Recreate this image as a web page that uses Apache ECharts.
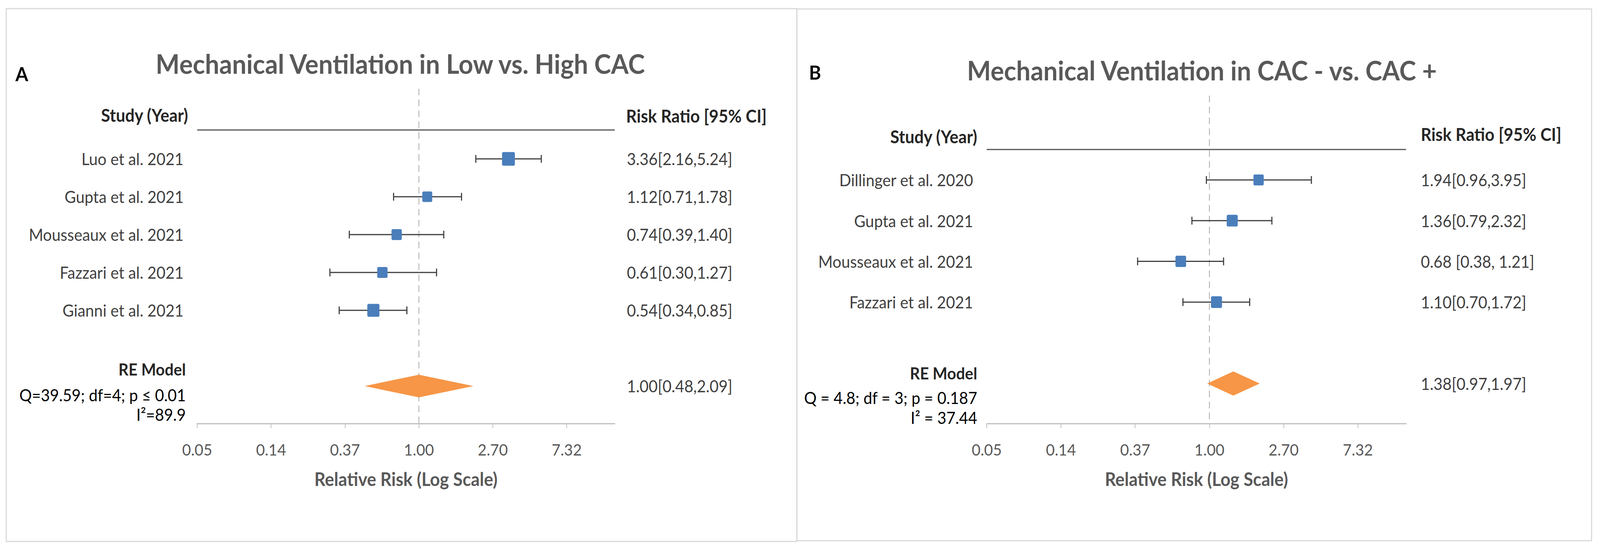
<!DOCTYPE html>
<html>
<head>
<meta charset="utf-8">
<script src="https://cdn.jsdelivr.net/npm/echarts@6/dist/echarts.min.js"></script>
<style>
html,body{margin:0;padding:0;background:#fff;overflow:hidden;}
#c{width:4357px;height:1409px;transform-origin:0 0;}
</style>
</head>
<body>
<div id="c"></div>
<script>
// ---------------- DATA ----------------
const tickLabels = ['0.05', '0.14', '0.37', '1.00', '2.70', '7.32'];
const axisTitle = 'Relative Risk (Log Scale)';
const headStudy = 'Study (Year)';
const headRR = 'Risk Ratio [95% CI]';
const pooledName = 'RE Model';

const titleA = 'Mechanical Ventilation in Low vs. High CAC';
const studiesA = ['Luo et al. 2021', 'Gupta et al. 2021', 'Mousseaux et al. 2021', 'Fazzari et al. 2021', 'Gianni et al. 2021'];
const rrA = [3.36, 1.12, 0.74, 0.61, 0.54];
const loA = [2.16, 0.71, 0.39, 0.30, 0.34];
const hiA = [5.24, 1.78, 1.40, 1.27, 0.85];
const ciTextA = ['3.36[2.16,5.24]', '1.12[0.71,1.78]', '0.74[0.39,1.40]', '0.61[0.30,1.27]', '0.54[0.34,0.85]'];
const pooledA = [1.00, 0.48, 2.09];
const pooledTextA = '1.00[0.48,2.09]';
const hetA = ['Q=39.59; df=4; p \u2264 0.01', 'I\u00B2=89.9'];

const titleB = 'Mechanical Ventilation in CAC - vs. CAC +';
const studiesB = ['Dillinger et al. 2020', 'Gupta et al. 2021', 'Mousseaux et al. 2021', 'Fazzari et al. 2021'];
const rrB = [1.94, 1.36, 0.68, 1.10];
const loB = [0.96, 0.79, 0.38, 0.70];
const hiB = [3.95, 2.32, 1.21, 1.72];
const ciTextB = ['1.94[0.96,3.95]', '1.36[0.79,2.32]', '0.68 [0.38, 1.21]', '1.10[0.70,1.72]'];
const pooledB = [1.38, 0.97, 1.97];
const pooledTextB = '1.38[0.97,1.97]';
const hetB = ['Q = 4.8; df = 3; p = 0.187', 'I\u00B2 = 37.44'];

// ---------------- STYLE / LAYOUT ----------------
const W = 4357, H = 1409;
const FONT = 'Lato, "Open Sans", sans-serif';
const FS = { title: 69, panel: 50, head: 45, row: 42.5, tick: 41.5, axisName: 47 };
const C = { title: '#595959', dark: '#262626', row: '#404040', box: '#4a7ebb', diamond: '#f79646',
            whisker: '#3f3f3f', axis: '#bfbfbf', ref: '#a6a6a6', border: '#d9d9d9', headLine: '#555555' };

const panels = [
  { label: 'A', labelX: 42, labelY: 188, border: [17, 22, 2153, 1365],
    title: titleA, titleX: 1090, titleY: 162,
    gridLeft: 537, gridRight: 1674, gridTop: 227, gridBottom: 1085,
    row0: 407, step: 97, boxes: [35, 27, 28, 28, 33], diamondH: 29,
    studyHeadRight: 512, studyHeadY: 294, rrHeadLeft: 1705, rrHeadY: 296, headLineY: 333,
    gapL: 37, gapR: 33, reRight: 506, reY: [946, 1012, 1062],
    studies: studiesA, rr: rrA, lo: loA, hi: hiA, ciText: ciTextA,
    pooled: pooledA, pooledText: pooledTextA, het: hetA },
  { label: 'B', labelX: 2203, labelY: 184, border: [2170, 23, 2164, 1362],
    title: titleB, titleX: 3273, titleY: 179,
    gridLeft: 2687, gridRight: 3829, gridTop: 245, gridBottom: 1085,
    row0: 461, step: 104.3, boxes: [28, 30, 29, 30], diamondH: 31,
    studyHeadRight: 2661, studyHeadY: 349, rrHeadLeft: 3869, rrHeadY: 343, headLineY: 383,
    gapL: 37, gapR: 40, reRight: 2661, reY: [956, 1019, 1070],
    studies: studiesB, rr: rrB, lo: loB, hi: hiB, ciText: ciTextB,
    pooled: pooledB, pooledText: pooledTextB, het: hetB }
];

// fit the 4357x1409 design into whatever window the page is opened in
const el = document.getElementById('c');
const sx = (window.innerWidth || W) / W, sy = (window.innerHeight || H) / H;
el.style.transform = 'scale(' + sx + ',' + sy + ')';

function txt(x, y, text, opt) {
  return Object.assign({ type: 'text', x: x, y: y, silent: true,
    style: Object.assign({ text: text, fontFamily: FONT, verticalAlign: 'middle' }, opt) });
}

const grids = [], xAxes = [], yAxes = [], series = [], graphics = [];

panels.forEach((p, k) => {
  const yMin = (p.gridTop - p.row0) / p.step;
  const yMax = (p.gridBottom - p.row0) / p.step;
  const pooledRow = p.studies.length + 1;

  grids.push({ left: p.gridLeft, top: p.gridTop, width: p.gridRight - p.gridLeft, height: p.gridBottom - p.gridTop });

  xAxes.push({
    type: 'value', gridIndex: k, min: -3, max: 2.65, interval: 1,
    axisLine: { show: true, onZero: false, lineStyle: { color: C.axis, width: 3 } },
    axisTick: { show: true, length: 12, lineStyle: { color: C.axis, width: 2 } },
    splitLine: { show: false },
    axisLabel: {
      show: true, margin: 45, color: C.title, fontSize: FS.tick, fontFamily: FONT, showMaxLabel: false,
      formatter: v => (Math.abs(v - Math.round(v)) < 1e-6 ? tickLabels[Math.round(v) + 3] || '' : '')
    },
    name: axisTitle, nameLocation: 'middle', nameGap: 118,
    nameTextStyle: { color: C.title, fontSize: FS.axisName, fontWeight: 'bold', fontFamily: FONT }
  });

  yAxes.push({ type: 'value', gridIndex: k, inverse: true, min: yMin, max: yMax, show: false });

  // reference line at RR = 1
  series.push({
    type: 'line', xAxisIndex: k, yAxisIndex: k, silent: true, symbol: 'none', z: 1,
    data: [[0, yMin], [0, yMax]],
    lineStyle: { color: C.ref, width: 2, type: [17, 11] }
  });

  // individual studies
  series.push({
    type: 'custom', xAxisIndex: k, yAxisIndex: k, silent: true, z: 3,
    data: p.rr.map((v, i) => [Math.log(v), Math.log(p.lo[i]), Math.log(p.hi[i]), i]),
    encode: { x: [0, 1, 2], y: 3 },
    renderItem: (params, api) => {
      const i = params.dataIndex;
      const row = api.value(3);
      const c = api.coord([api.value(0), row]);
      const l = api.coord([api.value(1), row]);
      const h = api.coord([api.value(2), row]);
      const cs = params.coordSys;
      const s = p.boxes[i];
      const cap = 10;
      const ws = { stroke: C.whisker, lineWidth: 3 };
      return {
        type: 'group', children: [
          { type: 'line', shape: { x1: l[0], y1: c[1], x2: h[0], y2: c[1] }, style: ws },
          { type: 'line', shape: { x1: l[0], y1: c[1] - cap, x2: l[0], y2: c[1] + cap }, style: ws },
          { type: 'line', shape: { x1: h[0], y1: c[1] - cap, x2: h[0], y2: c[1] + cap }, style: ws },
          { type: 'rect', shape: { x: c[0] - s / 2, y: c[1] - s / 2, width: s, height: s, r: 4 }, style: { fill: C.box } },
          txt(cs.x - p.gapL, c[1], p.studies[i], { align: 'right', fill: C.row, fontSize: FS.row }),
          txt(cs.x + cs.width + p.gapR, c[1], p.ciText[i], { align: 'left', fill: C.row, fontSize: FS.row })
        ]
      };
    }
  });

  // pooled estimate diamond
  series.push({
    type: 'custom', xAxisIndex: k, yAxisIndex: k, silent: true, z: 3,
    data: [[Math.log(p.pooled[0]), Math.log(p.pooled[1]), Math.log(p.pooled[2]), pooledRow]],
    encode: { x: [0, 1, 2], y: 3 },
    renderItem: (params, api) => {
      const row = api.value(3);
      const c = api.coord([api.value(0), row]);
      const l = api.coord([api.value(1), row]);
      const h = api.coord([api.value(2), row]);
      const cs = params.coordSys;
      const d = p.diamondH;
      return {
        type: 'group', children: [
          { type: 'polygon', shape: { points: [[l[0], c[1]], [c[0], c[1] - d], [h[0], c[1]], [c[0], c[1] + d]] },
            style: { fill: C.diamond } },
          txt(cs.x + cs.width + p.gapR, c[1], p.pooledText, { align: 'left', fill: C.row, fontSize: FS.row })
        ]
      };
    }
  });

  // decorations
  graphics.push({ type: 'rect', silent: true, shape: { x: p.border[0], y: p.border[1], width: p.border[2], height: p.border[3] },
    style: { fill: null, stroke: C.border, lineWidth: 3 } });
  graphics.push(txt(p.labelX, p.labelY, p.label, { align: 'left', fill: '#000', fontSize: FS.panel, fontWeight: 'bold' }));
  graphics.push(txt(p.titleX, p.titleY, p.title, { align: 'center', fill: C.title, fontSize: FS.title, fontWeight: 'bold' }));
  graphics.push(txt(p.studyHeadRight, p.studyHeadY, headStudy, { align: 'right', fill: C.dark, fontSize: FS.head, fontWeight: 'bold' }));
  graphics.push(txt(p.rrHeadLeft, p.rrHeadY, headRR, { align: 'left', fill: C.dark, fontSize: FS.head, fontWeight: 'bold' }));
  graphics.push({ type: 'line', silent: true, shape: { x1: p.gridLeft, y1: p.headLineY, x2: p.gridRight, y2: p.headLineY },
    style: { stroke: C.headLine, lineWidth: 3 } });
  graphics.push(txt(p.reRight, p.reY[0], pooledName, { align: 'right', fill: C.dark, fontSize: FS.row, fontWeight: 'bold' }));
  graphics.push(txt(p.reRight, p.reY[1], p.het[0], { align: 'right', fill: '#000', fontSize: FS.row }));
  graphics.push(txt(p.reRight, p.reY[2], p.het[1], { align: 'right', fill: '#000', fontSize: FS.row }));
});

const chart = echarts.init(el, null, { renderer: 'svg', width: W, height: H });
chart.setOption({
  animation: false,
  backgroundColor: '#ffffff',
  grid: grids,
  xAxis: xAxes,
  yAxis: yAxes,
  series: series,
  graphic: { elements: graphics }
});
</script>
</body>
</html>
